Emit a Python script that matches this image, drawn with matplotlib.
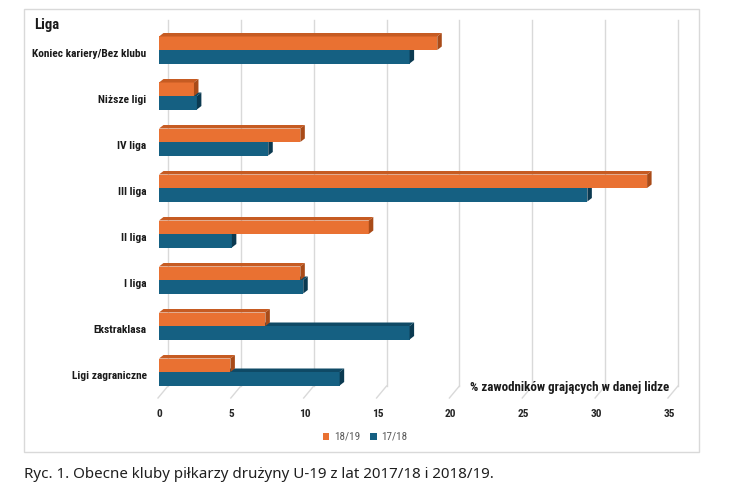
import matplotlib
matplotlib.use("Agg")
import matplotlib.pyplot as plt
from matplotlib.patches import Polygon, Rectangle, Patch
import logging
logging.getLogger('matplotlib.font_manager').setLevel(logging.ERROR)

categories = ["Ligi zagraniczne", "Ekstraklasa", "I liga", "II liga",
              "III liga", "IV liga", "Niższe ligi", "Koniec kariery/Bez klubu"]
s1819 = [4.9, 7.3, 9.7, 14.4, 33.5, 9.7, 2.4, 19.1]
s1718 = [12.4, 17.2, 9.9, 5.0, 29.4, 7.5, 2.6, 17.2]
series_names = ["18/19", "17/18"]
xticks = [0, 5, 10, 15, 20, 25, 30, 35]
xlabel = "% zawodników grających w danej lidze"
ylabel = "Liga"
caption = "Ryc. 1. Obecne kluby piłkarzy drużyny U-19 z lat 2017/18 i 2018/19."

COND = ['Liberation Sans Narrow', 'Roboto Condensed', 'Roboto', 'DejaVu Sans']
ORANGE, ORANGE_TOP, ORANGE_SIDE = "#E97132", "#C65B22", "#A94B18"
BLUE, BLUE_TOP, BLUE_SIDE = "#156082", "#0F4A66", "#0B3A51"

W, H = 747, 496
fig = plt.figure(figsize=(W / 100, H / 100), dpi=100)

# px geometry
x0px, pxu = 159, 14.57
ypx0, pyu = 375, 46.0
xmax = 36
ax_left, ax_right = x0px, x0px + xmax * pxu
ax_bottom_px = ypx0 + 0.5 * pyu
ax_top_px = ypx0 - 7.5 * pyu
ax = fig.add_axes([ax_left / W, 1 - ax_bottom_px / H,
                   (ax_right - ax_left) / W, (ax_bottom_px - ax_top_px) / H])
ax.set_xlim(0, xmax)
ax.set_ylim(-0.5, 7.5)
for s in ax.spines.values():
    s.set_visible(False)
ax.patch.set_alpha(0)

def dxu(px):
    return px / pxu

def dyu(px):
    return px / pyu

# gridlines (back wall + floor)
back_dx = dxu(9)
y_floor_back = -dyu(11)
y_front = -0.5
y_top = 7 + dyu(33)
for t in xticks:
    ax.plot([t + back_dx, t + back_dx], [y_floor_back, y_top], color="#D9D9D9",
            lw=1.0, zorder=0, clip_on=False)
    ax.plot([t + back_dx, t - dxu(1)], [y_floor_back, y_front], color="#D9D9D9",
            lw=1.0, zorder=0, clip_on=False)

off = dyu(3)
h = dyu(13.5)
ddx, ddy = dxu(4.5), dyu(3.5)

def bar3d(v, yb, yt, front, top, side, z):
    ax.add_patch(Rectangle((0, yb), v, yt - yb, facecolor=front, edgecolor="none",
                           zorder=z, clip_on=False))
    ax.add_patch(Polygon([(0, yt), (v, yt), (v + ddx, yt + ddy), (ddx, yt + ddy)],
                         closed=True, facecolor=top, edgecolor="none", zorder=z, clip_on=False))
    ax.add_patch(Polygon([(v, yb), (v, yt), (v + ddx, yt + ddy), (v + ddx, yb + ddy)],
                         closed=True, facecolor=side, edgecolor="none", zorder=z, clip_on=False))

for i in range(len(categories)):
    c = i + off
    bar3d(s1718[i], c - h, c, BLUE, BLUE_TOP, BLUE_SIDE, 2 + i * 0.01)
    bar3d(s1819[i], c, c + h, ORANGE, ORANGE_TOP, ORANGE_SIDE, 3 + i * 0.01)

ax.set_yticks(range(len(categories)))
ax.set_yticklabels(categories, family=COND, fontweight="bold", fontsize=8.2, color="#1a1a1a")
ax.set_xticks(xticks)
ax.set_xticklabels([str(t) for t in xticks], family=COND, fontweight="bold",
                   fontsize=8.2, color="#262626")
ax.tick_params(axis="y", length=0, pad=9)
ax.tick_params(axis="x", length=0, pad=8)

fig.text(669 / W, 1 - 387 / H, xlabel, ha="right", va="center", family=COND,
         fontweight="bold", fontsize=9.4, color="#1a1a1a")
fig.text(34 / W, 1 - 25 / H, ylabel, ha="left", va="center", family=COND,
         fontweight="bold", fontsize=10.5, color="#1a1a1a")

handles = [Patch(facecolor=ORANGE, edgecolor="none"), Patch(facecolor=BLUE, edgecolor="none")]
leg = fig.legend(handles, series_names, loc="center", bbox_to_anchor=(365 / W, 1 - 437 / H),
                 ncol=2, frameon=False, handlelength=0.6, handleheight=0.6,
                 handletextpad=0.4, columnspacing=0.9,
                 prop={"family": COND, "size": 8})
for t in leg.get_texts():
    t.set_color("#595959")

fig.patches.append(Rectangle((24 / W, 1 - 452 / H), (699 - 24) / W, (452 - 9) / H,
                             transform=fig.transFigure, facecolor="none",
                             edgecolor="#D9D9D9", lw=1.0))

fig.text(24 / W, 1 - 475 / H, caption, ha="left", va="center",
         family=["Noto Sans", "DejaVu Sans"], fontsize=10.9, color="#1f1f1f")

fig.savefig("out.png", dpi=100)
